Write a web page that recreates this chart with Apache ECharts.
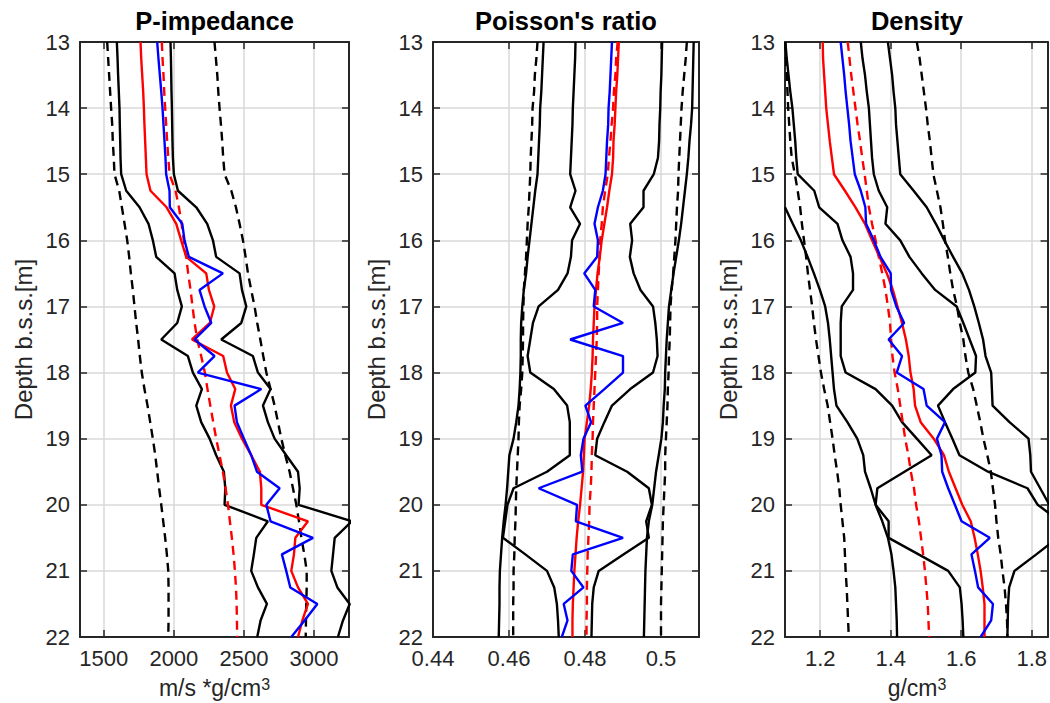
<!DOCTYPE html>
<html>
<head>
<meta charset="utf-8">
<script src="https://cdn.jsdelivr.net/npm/echarts@6/dist/echarts.min.js"></script>
<style>
  html, body { margin: 0; padding: 0; background: #ffffff; }
  #chart { width: 1050px; height: 703px; }
</style>
</head>
<body>
<div id="chart"></div>
<script>
// Depth below sea surface [m], shared by all three panels
const depth = [13, 13.25, 13.5, 13.75, 14, 14.25, 14.5, 14.75, 15, 15.25, 15.5, 15.75, 16, 16.25, 16.5, 16.75,
  17, 17.25, 17.5, 17.75, 18, 18.25, 18.5, 18.75, 19, 19.25, 19.5, 19.75, 20, 20.25, 20.5, 20.75, 21, 21.25, 21.5, 21.75, 22];

// P-impedance [m/s * g/cm3]
const impPriorLow  = [1524,1531,1538,1545,1552,1560,1564,1571,1576,1610,1629,1648,1667,1681,1693,1707,1719,1731,1745,1757,1771,1790,1812,1831,1850,1867,1881,1895,1910,1924,1938,1950,1960,1962,1962,1962,1960];
const impPriorHigh = [2290,2300,2310,2317,2326,2336,2345,2352,2362,2410,2443,2469,2493,2512,2529,2552,2576,2595,2617,2638,2660,2690,2719,2743,2767,2795,2826,2850,2874,2893,2910,2931,2948,2948,2945,2943,2941];
const impPriorMean = [1914,1919,1926,1931,1938,1945,1952,1960,1969,2012,2036,2055,2071,2088,2102,2119,2133,2148,2167,2195,2221,2240,2260,2281,2302,2326,2350,2369,2386,2400,2414,2426,2436,2443,2448,2450,2452];
const impPostLow   = [1593,1598,1602,1607,1612,1614,1617,1619,1624,1660,1755,1819,1850,1874,2005,2024,2057,2024,1910,2100,2136,2200,2160,2195,2255,2302,2357,2367,2362,2671,2588,2571,2552,2600,2664,2619,2595];
const impPostHigh  = [1976,1979,1981,1983,1986,1988,1990,1993,2000,2029,2160,2238,2279,2302,2469,2486,2517,2481,2338,2564,2600,2690,2636,2671,2719,2802,2886,2898,2890,3270,3148,3136,3124,3167,3255,3207,3171];
const impPostMean  = [1762,1767,1774,1781,1786,1790,1795,1800,1805,1833,1948,2017,2052,2088,2231,2250,2288,2257,2129,2352,2379,2438,2407,2431,2486,2552,2614,2624,2624,2957,2867,2857,2838,2886,2957,2917,2886];
const impLog       = [1881,1890,1900,1910,1919,1926,1933,1940,1945,1969,1971,2060,2076,2107,2350,2183,2219,2267,2148,2290,2171,2624,2433,2450,2500,2552,2593,2755,2660,2690,2993,2771,2802,2831,3024,2933,2838];

// Poisson's ratio
const prPriorLow  = [0.4675,0.4672,0.4668,0.4666,0.4662,0.4661,0.4659,0.4657,0.4656,0.4654,0.4652,0.4649,0.4647,0.4645,0.4642,0.4639,0.4638,0.4637,0.4637,0.4636,0.4635,0.4632,0.4628,0.4626,0.4625,0.4623,0.4621,0.4619,0.4618,0.4617,0.4615,0.4614,0.4612,0.4612,0.4611,0.4611,0.4611];
const prPriorHigh = [0.5068,0.5065,0.5061,0.5057,0.5054,0.5052,0.5050,0.5048,0.5046,0.5045,0.5042,0.5040,0.5038,0.5035,0.5032,0.5028,0.5025,0.5024,0.5023,0.5021,0.5020,0.5018,0.5017,0.5015,0.5013,0.5011,0.5011,0.5009,0.5007,0.5005,0.5004,0.5003,0.5002,0.5001,0.5000,0.5000,0.5000];
const prPriorMean = [0.4886,0.4882,0.4880,0.4876,0.4874,0.4870,0.4867,0.4863,0.4860,0.4853,0.4847,0.4844,0.4840,0.4838,0.4836,0.4834,0.4832,0.4832,0.4831,0.4829,0.4827,0.4825,0.4823,0.4821,0.4820,0.4818,0.4817,0.4815,0.4812,0.4811,0.4809,0.4807,0.4806,0.4805,0.4805,0.4804,0.4804];
const prOuterLow  = [0.4691,0.4689,0.4687,0.4685,0.4682,0.4681,0.4679,0.4677,0.4675,0.4669,0.4664,0.4659,0.4654,0.4649,0.4645,0.4639,0.4635,0.4632,0.4631,0.4631,0.4630,0.4628,0.4625,0.4619,0.4612,0.4601,0.4598,0.4595,0.4591,0.4586,0.4582,0.4579,0.4576,0.4575,0.4575,0.4574,0.4573];
const prInnerLow  = [0.4775,0.4774,0.4772,0.4770,0.4768,0.4767,0.4765,0.4763,0.4761,0.4775,0.4761,0.4787,0.4766,0.4763,0.4754,0.4729,0.4678,0.4663,0.4656,0.4649,0.4656,0.4718,0.4753,0.4760,0.4760,0.4760,0.4700,0.4612,0.4596,0.4590,0.4584,0.4643,0.4700,0.4719,0.4726,0.4729,0.4731];
const prInnerHigh = [0.5003,0.5002,0.5001,0.4999,0.4998,0.4996,0.4995,0.4992,0.4981,0.4954,0.4954,0.4919,0.4924,0.4918,0.4928,0.4946,0.4979,0.4985,0.4989,0.4991,0.4979,0.4919,0.4871,0.4851,0.4832,0.4827,0.4911,0.4968,0.4976,0.4961,0.4968,0.4902,0.4836,0.4823,0.4819,0.4818,0.4817];
const prOuterHigh = [0.5086,0.5085,0.5084,0.5083,0.5082,0.5079,0.5075,0.5072,0.5068,0.5063,0.5058,0.5053,0.5047,0.5040,0.5033,0.5027,0.5021,0.5018,0.5015,0.5013,0.5011,0.5010,0.5007,0.5005,0.5001,0.4994,0.4987,0.4982,0.4977,0.4968,0.4963,0.4961,0.4959,0.4958,0.4957,0.4956,0.4955];
const prPostMean  = [0.4889,0.4887,0.4885,0.4882,0.4880,0.4878,0.4875,0.4874,0.4871,0.4864,0.4858,0.4851,0.4844,0.4839,0.4833,0.4829,0.4825,0.4823,0.4821,0.4820,0.4818,0.4815,0.4811,0.4805,0.4799,0.4797,0.4795,0.4791,0.4787,0.4782,0.4778,0.4775,0.4772,0.4770,0.4768,0.4767,0.4767];
const prLog       = [0.4871,0.4869,0.4867,0.4865,0.4862,0.4861,0.4858,0.4856,0.4854,0.4847,0.4834,0.4825,0.4834,0.4832,0.4798,0.4827,0.4823,0.4900,0.4761,0.4900,0.4900,0.4851,0.4801,0.4816,0.4796,0.4789,0.4793,0.4678,0.4779,0.4776,0.4900,0.4768,0.4764,0.4796,0.4744,0.4754,0.4739];

// Density [g/cm3]; null where the curve lies outside the plotted range
const dnPriorLow  = [1.101,1.103,1.105,1.107,1.109,1.112,1.115,1.119,1.128,1.136,1.143,1.148,1.154,1.160,1.165,1.171,1.177,1.182,1.188,1.195,1.202,1.211,1.221,1.228,1.235,1.241,1.248,1.254,1.258,1.263,1.268,1.270,1.272,1.275,1.277,1.279,1.281];
const dnPriorHigh = [1.474,1.482,1.488,1.494,1.500,1.505,1.511,1.516,1.521,1.531,1.541,1.548,1.554,1.562,1.569,1.577,1.588,1.596,1.606,1.612,1.620,1.634,1.644,1.654,1.663,1.674,1.684,1.690,1.696,1.700,1.705,1.712,1.717,1.723,1.727,1.730,1.731];
const dnPriorMean = [1.278,1.283,1.288,1.294,1.300,1.306,1.313,1.319,1.326,1.332,1.338,1.347,1.357,1.366,1.376,1.385,1.392,1.398,1.401,1.405,1.411,1.420,1.427,1.434,1.441,1.450,1.457,1.466,1.472,1.480,1.486,1.492,1.497,1.501,1.505,1.507,1.509];
const dnOuterLow  = [null,null,null,null,null,null,null,null,null,null,1.100,1.122,1.145,1.164,1.182,1.199,1.214,1.222,1.227,1.231,1.235,1.239,1.246,1.277,1.305,1.322,1.327,1.343,1.357,1.376,1.392,1.402,1.408,1.413,1.415,1.417,1.418];
const dnInnerLow  = [1.101,1.105,1.110,1.115,1.121,1.125,1.129,1.132,1.136,1.183,1.197,1.249,1.263,1.286,1.293,1.293,1.261,1.258,1.258,1.258,1.272,1.357,1.404,1.432,1.474,1.516,1.439,1.362,1.357,1.394,1.394,1.479,1.563,1.596,1.601,1.604,1.606];
const dnInnerHigh = [1.315,1.320,1.327,1.332,1.338,1.341,1.344,1.347,1.352,1.366,1.390,1.385,1.427,1.453,1.488,1.526,1.587,1.606,1.624,1.642,1.640,1.577,1.534,1.554,1.575,1.595,1.676,1.788,1.817,1.880,1.873,1.813,1.751,1.736,1.733,1.732,1.731];
const dnOuterHigh = [1.392,1.398,1.404,1.408,1.413,1.415,1.419,1.423,1.427,1.465,1.502,1.528,1.552,1.577,1.603,1.622,1.637,1.650,1.662,1.669,1.685,1.687,1.689,1.737,1.791,1.796,1.798,1.824,1.850,1.901,null,null,null,null,null,null,null];
const dnPostMean  = [1.207,1.208,1.211,1.214,1.217,1.222,1.227,1.233,1.239,1.270,1.300,1.327,1.347,1.368,1.389,1.406,1.419,1.432,1.443,1.451,1.456,1.465,1.469,1.485,1.522,1.551,1.565,1.584,1.603,1.627,1.638,1.647,1.655,1.661,1.666,1.666,1.666];
const dnLog       = [1.258,1.263,1.268,1.272,1.277,1.282,1.286,1.292,1.298,1.315,1.328,1.330,1.352,1.371,1.400,1.401,1.416,1.438,1.394,1.432,1.417,1.493,1.502,1.554,1.531,1.544,1.546,1.563,1.582,1.601,1.681,1.629,1.639,1.648,1.690,1.685,1.655];

// Axis tick values
const impTicks = [1500, 2000, 2500, 3000];
const prTicks = [0.44, 0.46, 0.48, 0.5];
const dnTicks = [1.2, 1.4, 1.6, 1.8];

const FONT = "'Liberation Sans', Arial, Helvetica, sans-serif";
const AX = '#262626';
const LW = 2.4;

const panels = [
  { title: 'P-impedance', unit: 'm/s *g/cm', left: 80, width: 269, min: 1330, max: 3250, ticks: impTicks,
    priorLow: impPriorLow, priorHigh: impPriorHigh, priorMean: impPriorMean,
    bands: [impPostLow, impPostHigh], postMean: impPostMean, log: impLog },
  { title: "Poisson's ratio", unit: '', left: 433, width: 266, min: 0.44, max: 0.51, ticks: prTicks,
    priorLow: prPriorLow, priorHigh: prPriorHigh, priorMean: prPriorMean,
    bands: [prOuterLow, prInnerLow, prInnerHigh, prOuterHigh], postMean: prPostMean, log: prLog },
  { title: 'Density', unit: 'g/cm', left: 785, width: 264, min: 1.1, max: 1.845, ticks: dnTicks,
    priorLow: dnPriorLow, priorHigh: dnPriorHigh, priorMean: dnPriorMean,
    bands: [dnOuterLow, dnInnerLow, dnInnerHigh, dnOuterHigh], postMean: dnPostMean, log: dnLog }
];

const TOP = 42, HEIGHT = 595;

function toPoints(vals) {
  const out = [];
  vals.forEach((v, i) => { if (v !== null) out.push([v, depth[i]]); });
  return out;
}

const grid = [], xAxis = [], yAxis = [], series = [], graphic = [];

panels.forEach((p, gi) => {
  grid.push({ left: p.left, top: TOP, width: p.width, height: HEIGHT, containLabel: false });

  const tickStyle = { show: true, inside: true, length: 7, lineStyle: { color: AX, width: 1.5 } };
  const lineStyle = { show: true, onZero: false, lineStyle: { color: AX, width: 2 } };

  xAxis.push({
    type: 'value', gridIndex: gi, position: 'bottom', min: p.min, max: p.max,
    axisLine: lineStyle,
    axisTick: Object.assign({ customValues: p.ticks }, tickStyle),
    axisLabel: { customValues: p.ticks, formatter: v => String(v), fontSize: 22, fontFamily: FONT, color: AX, margin: 10 },
    splitLine: { show: true, lineStyle: { color: '#d9d9d9', width: 1.5 } }
  });
  xAxis.push({
    type: 'value', gridIndex: gi, position: 'top', min: p.min, max: p.max,
    axisLine: lineStyle,
    axisTick: Object.assign({ customValues: p.ticks }, tickStyle),
    axisLabel: { show: false },
    splitLine: { show: false }
  });
  yAxis.push({
    type: 'value', gridIndex: gi, position: 'left', inverse: true, min: 13, max: 22, interval: 1,
    axisLine: lineStyle,
    axisTick: tickStyle,
    axisLabel: { formatter: v => String(v), fontSize: 22, fontFamily: FONT, color: AX, margin: 10 },
    splitLine: { show: true, lineStyle: { color: '#d9d9d9', width: 1.5 } }
  });
  yAxis.push({
    type: 'value', gridIndex: gi, position: 'right', inverse: true, min: 13, max: 22, interval: 1,
    axisLine: lineStyle,
    axisTick: tickStyle,
    axisLabel: { show: false },
    splitLine: { show: false }
  });

  const addLine = (vals, color, dashed, z) => {
    series.push({
      type: 'line', xAxisIndex: gi * 2, yAxisIndex: gi * 2,
      data: toPoints(vals), symbol: 'none', showSymbol: false, clip: true,
      animation: false, silent: true, z: z,
      lineStyle: { color: color, width: LW, type: dashed ? [9, 6] : 'solid' }
    });
  };
  addLine(p.priorLow, '#000000', true, 2);
  addLine(p.priorHigh, '#000000', true, 2);
  p.bands.forEach(b => addLine(b, '#000000', false, 3));
  addLine(p.priorMean, '#ff0000', true, 4);
  addLine(p.postMean, '#ff0000', false, 5);
  addLine(p.log, '#0000ff', false, 6);

  const cx = p.left + p.width / 2;
  graphic.push({
    type: 'text', x: cx, y: 21, silent: true,
    style: { text: p.title, align: 'center', verticalAlign: 'middle', fontSize: 25.5, fontWeight: 'bold', fontFamily: FONT, fill: '#000000' }
  });
  graphic.push({
    type: 'text', x: p.left - 57, y: TOP + HEIGHT / 2, rotation: Math.PI / 2, silent: true,
    style: { text: 'Depth b.s.s.[m]', align: 'center', verticalAlign: 'middle', fontSize: 24, fontFamily: FONT, fill: AX }
  });
  if (p.unit) {
    graphic.push({
      type: 'text', x: cx, y: 688, silent: true,
      style: {
        text: p.unit + '{sup|3}', align: 'center', verticalAlign: 'middle',
        fontSize: 23, fontFamily: FONT, fill: AX,
        rich: { sup: { fontSize: 16, fontFamily: FONT, fill: AX, verticalAlign: 'top' } }
      }
    });
  }
});

const chart = echarts.init(document.getElementById('chart'), null, { renderer: 'svg' });
chart.setOption({
  backgroundColor: '#ffffff',
  animation: false,
  grid: grid,
  xAxis: xAxis,
  yAxis: yAxis,
  series: series,
  graphic: graphic
});
</script>
</body>
</html>
